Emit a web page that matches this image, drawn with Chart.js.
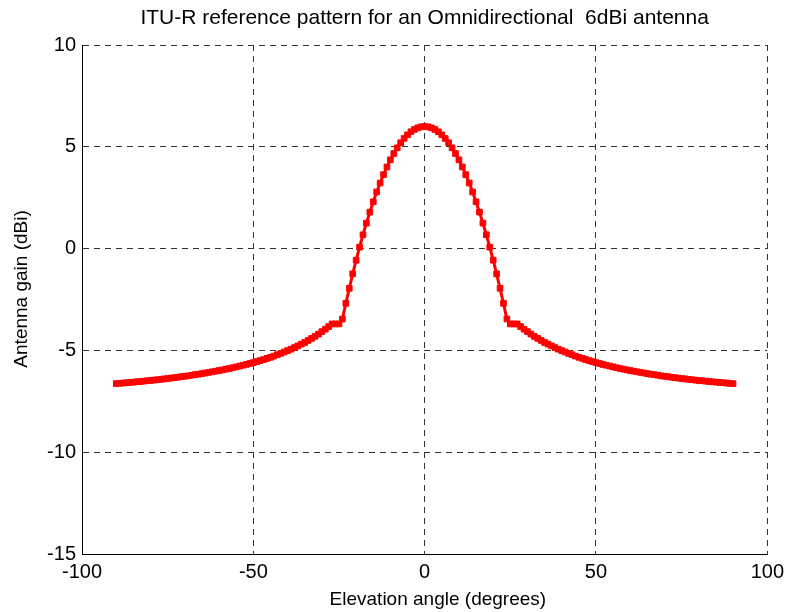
<!DOCTYPE html>
<html>
<head>
<meta charset="utf-8">
<script src="https://cdn.jsdelivr.net/npm/chart.js@4/dist/chart.umd.min.js"></script>
<style>
  html, body { margin: 0; padding: 0; background: #ffffff; }
  #wrap { width: 790px; height: 612px; }
</style>
</head>
<body>
<div id="wrap"><canvas id="c" width="790" height="612"></canvas></div>
<script>
// Elevation angles (degrees)
const angles = [
  -90,-89,-88,-87,-86,-85,-84,-83,-82,-81,-80,-79,-78,-77,-76,-75,-74,-73,-72,-71,
  -70,-69,-68,-67,-66,-65,-64,-63,-62,-61,-60,-59,-58,-57,-56,-55,-54,-53,-52,-51,
  -50,-49,-48,-47,-46,-45,-44,-43,-42,-41,-40,-39,-38,-37,-36,-35,-34,-33,-32,-31,
  -30,-29,-28,-27,-26,-25,-24,-23,-22,-21,-20,-19,-18,-17,-16,-15,-14,-13,-12,-11,
  -10,-9,-8,-7,-6,-5,-4,-3,-2,-1,0,1,2,3,4,5,6,7,8,9,
  10,11,12,13,14,15,16,17,18,19,20,21,22,23,24,25,26,27,28,29,
  30,31,32,33,34,35,36,37,38,39,40,41,42,43,44,45,46,47,48,49,
  50,51,52,53,54,55,56,57,58,59,60,61,62,63,64,65,66,67,68,69,
  70,71,72,73,74,75,76,77,78,79,80,81,82,83,84,85,86,87,88,89,90
];
// Antenna gain (dBi)
const gains = [
  -6.63,-6.62,-6.60,-6.59,-6.57,-6.56,-6.54,-6.53,-6.51,-6.49,
  -6.48,-6.46,-6.44,-6.42,-6.40,-6.38,-6.36,-6.34,-6.32,-6.29,
  -6.27,-6.25,-6.22,-6.19,-6.17,-6.14,-6.11,-6.08,-6.05,-6.02,
  -5.99,-5.96,-5.92,-5.89,-5.85,-5.81,-5.77,-5.73,-5.69,-5.64,
  -5.60,-5.55,-5.50,-5.45,-5.39,-5.34,-5.28,-5.21,-5.15,-5.08,
  -5.01,-4.94,-4.86,-4.78,-4.69,-4.61,-4.51,-4.41,-4.31,-4.20,
  -4.08,-3.96,-3.83,-3.70,-3.70,-3.70,-3.46,-2.69,-1.95,-1.24,
  -0.57,0.07,0.68,1.25,1.79,2.30,2.78,3.22,3.63,4.01,
  4.36,4.67,4.95,5.20,5.41,5.59,5.74,5.85,5.93,5.98,
  6.00,
  5.98,5.93,5.85,5.74,5.59,5.41,5.20,4.95,4.67,4.36,
  4.01,3.63,3.22,2.78,2.30,1.79,1.25,0.68,0.07,-0.57,
  -1.24,-1.95,-2.69,-3.46,-3.70,-3.70,-3.70,-3.83,-3.96,-4.08,
  -4.20,-4.31,-4.41,-4.51,-4.61,-4.69,-4.78,-4.86,-4.94,-5.01,
  -5.08,-5.15,-5.21,-5.28,-5.34,-5.39,-5.45,-5.50,-5.55,-5.60,
  -5.64,-5.69,-5.73,-5.77,-5.81,-5.85,-5.89,-5.92,-5.96,-5.99,
  -6.02,-6.05,-6.08,-6.11,-6.14,-6.17,-6.19,-6.22,-6.25,-6.27,
  -6.29,-6.32,-6.34,-6.36,-6.38,-6.40,-6.42,-6.44,-6.46,-6.48,
  -6.49,-6.51,-6.53,-6.54,-6.56,-6.57,-6.59,-6.60,-6.62,-6.63
];
const xTicks = [-100, -50, 0, 50, 100];
const yTicks = [-15, -10, -5, 0, 5, 10];

const titleText = 'ITU-R reference pattern for an Omnidirectional  6dBi antenna';
const xLabel = 'Elevation angle (degrees)';
const yLabel = 'Antenna gain (dBi)';

const FONT = "'Liberation Sans', Arial, Helvetica, sans-serif";
const points = angles.map((a, i) => ({ x: a, y: gains[i] }));

const bgPlugin = {
  id: 'bg',
  beforeDraw(chart) {
    const ctx = chart.ctx;
    ctx.save();
    ctx.fillStyle = '#ffffff';
    ctx.fillRect(0, 0, chart.width, chart.height);
    ctx.restore();
  }
};

new Chart(document.getElementById('c'), {
  type: 'scatter',
  data: {
    datasets: [{
      data: points,
      showLine: true,
      borderColor: '#ff0000',
      backgroundColor: '#ff0000',
      borderWidth: 3,
      pointStyle: 'rect',
      pointRadius: 4,
      pointBorderWidth: 1,
      pointBorderColor: '#ff0000',
      pointBackgroundColor: '#ff0000',
      tension: 0
    }]
  },
  plugins: [bgPlugin],
  options: {
    responsive: false,
    devicePixelRatio: 1,
    animation: false,
    layout: { padding: { left: 0, right: 20, top: 0, bottom: 0 } },
    plugins: {
      legend: { display: false },
      tooltip: { enabled: false },
      title: {
        display: true,
        fullSize: false,
        text: titleText,
        color: '#000000',
        font: { family: FONT, size: 21, weight: 'normal', lineHeight: 1.2 },
        padding: { top: 6, bottom: 13.8 }
      }
    },
    scales: {
      x: {
        type: 'linear',
        min: -100, max: 100,
        afterBuildTicks(scale) { scale.ticks = xTicks.map(v => ({ value: v })); },
        afterFit(scale) { scale.height = 58; },
        grid: {
          color: '#333333',
          lineWidth: 1,
          drawTicks: false
        },
        border: { display: true, color: '#000000', width: 1, dash: [6, 5] },
        ticks: {
          color: '#000000',
          padding: 6,
          maxRotation: 0,
          autoSkip: false,
          font: { family: FONT, size: 20 }
        },
        title: {
          display: true,
          text: '     ' + xLabel,
          color: '#000000',
          font: { family: FONT, size: 19, lineHeight: 1.2 },
          padding: { top: 0, bottom: 1 }
        }
      },
      y: {
        type: 'linear',
        min: -15, max: 10,
        afterBuildTicks(scale) { scale.ticks = yTicks.map(v => ({ value: v })); },
        afterFit(scale) { scale.width = 82; },
        grid: {
          color: '#333333',
          lineWidth: 1,
          drawTicks: false
        },
        border: { display: true, color: '#000000', width: 1, dash: [6, 5] },
        ticks: {
          color: '#000000',
          padding: 6,
          autoSkip: false,
          font: { family: FONT, size: 20 }
        },
        title: {
          display: true,
          text: '    ' + yLabel,
          color: '#000000',
          font: { family: FONT, size: 19, lineHeight: 1.2 },
          padding: { top: 10, bottom: 0 }
        }
      }
    }
  }
});
</script>
</body>
</html>
